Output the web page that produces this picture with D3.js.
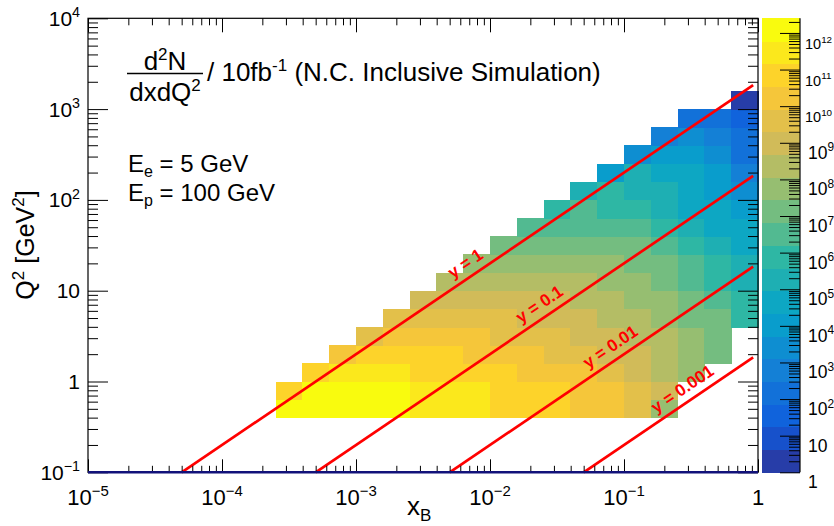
<!DOCTYPE html>
<html>
<head>
<meta charset="utf-8">
<script src="https://cdn.jsdelivr.net/npm/d3@7"></script>
<style>
  body { margin: 0; background: #fff; }
  svg { display: block; font-family: "Liberation Sans", Arial, Helvetica, sans-serif; }
</style>
</head>
<body>
<svg id="chart" width="834" height="526"></svg>
<script>
// ---- Binning: log10 edges, 0.2 decade wide ----
const xBinLow = -3.6;   // first x_B bin starts at 10^-3.6
const qBinLow = -0.4;   // first Q^2 bin starts at 10^-0.4
const binStep = 0.2;

// First filled Q^2 bin of each x_B column
const colFirstRow = [0, 0, 0, 0, 0, 0, 0, 0, 0, 0, 0, 0, 0, 0, 0, 2, 3, 5];

// log10(d2N/dxdQ2 per 10 fb^-1), each column listed from its first filled Q^2 bin upward
const colLogCounts = [
  [12.1, 10.8],
  [12.1, 12.1, 10.8],
  [12.1, 12.1, 11.4, 10.2],
  [12.1, 12.1, 11.4, 10.8, 9.6],
  [12.1, 12.1, 11.4, 10.8, 10.2, 9.6],
  [11.4, 11.4, 10.8, 10.8, 10.2, 9.6, 9.0],
  [11.4, 11.4, 10.8, 10.8, 10.2, 9.6, 9.0, 8.3],
  [11.4, 11.4, 10.8, 10.2, 10.2, 9.6, 9.0, 8.3, 7.7],
  [10.8, 10.8, 10.8, 10.2, 9.6, 9.6, 9.0, 8.3, 7.7, 7.1],
  [10.8, 10.8, 10.2, 10.2, 9.6, 9.0, 9.0, 8.3, 7.7, 7.1, 6.5],
  [10.8, 10.8, 10.2, 9.6, 9.6, 9.0, 9.0, 8.3, 7.7, 7.1, 6.5, 5.9],
  [10.2, 10.2, 10.2, 9.6, 9.0, 9.0, 8.3, 8.3, 7.7, 7.1, 6.5, 6.5, 5.3],
  [10.2, 10.2, 9.6, 9.0, 9.0, 8.3, 8.3, 7.7, 7.7, 7.1, 6.5, 5.9, 5.9, 4.0],
  [9.6, 9.6, 9.0, 9.0, 8.3, 8.3, 7.7, 7.7, 7.1, 7.1, 6.5, 5.9, 5.3, 5.3, 3.4],
  [7.7, 9.0, 8.3, 8.3, 8.3, 7.7, 7.7, 7.1, 7.1, 6.5, 5.9, 5.3, 5.3, 4.6, 4.0, 2.8],
  [7.7, 7.7, 7.7, 7.1, 7.1, 6.5, 6.5, 5.9, 5.3, 4.6, 4.6, 4.6, 4.0, 3.4, 2.2],
  [7.1, 7.1, 7.1, 6.5, 5.9, 5.9, 5.3, 4.6, 4.6, 4.0, 4.0, 3.4, 2.8, 2.2],
  [5.9, 5.9, 5.3, 5.3, 4.6, 4.6, 4.0, 3.4, 2.8, 2.2, 2.2, 1.5, 0.3]
];

// Inelasticity lines Q^2 = y * x * s, s = 4 * 5 GeV * 100 GeV
const beamS = 2000;
const yLines = [1, 0.1, 0.01, 0.001];
const yLineLabels = ["y = 1", "y = 0.1", "y = 0.01", "y = 0.001"];
const yLineLabelX = [473, 547, 618, 690];   // pixel x of each label centre
const yLineXMax = 0.92;

// Axis decades
const xDecades = [-5, -4, -3, -2, -1, 0];
const qDecades = [-1, 0, 1, 2, 3, 4];
const zDecades = [0, 1, 2, 3, 4, 5, 6, 7, 8, 9, 10, 11, 12];
const zMaxLog = 12.4;
const nContours = 20;

// Beam energies
const beams = [["E", "e", " = 5 GeV"], ["E", "p", " = 100 GeV"]];

// ---- kBird palette ----
const birdStops = [0.0, 0.125, 0.25, 0.375, 0.5, 0.625, 0.75, 0.875, 1.0];
const birdR = [0.2082, 0.0592, 0.0780, 0.0232, 0.1802, 0.5301, 0.8186, 0.9956, 0.9764];
const birdG = [0.1664, 0.3599, 0.5041, 0.6419, 0.7178, 0.7492, 0.7328, 0.7862, 0.9832];
const birdB = [0.5293, 0.8684, 0.8385, 0.7914, 0.6425, 0.4662, 0.3499, 0.1968, 0.0539];

const bird = d3.scaleLinear()
  .domain(birdStops)
  .range(birdStops.map((_, i) => d3.rgb(birdR[i] * 255, birdG[i] * 255, birdB[i] * 255)))
  .interpolate(d3.interpolateRgb);

// contour band -> palette colour
const bandColor = i => bird(Math.floor((i + 0.99) * 255 / nContours) / 254);
const bandOf = lz => Math.max(0, Math.min(nContours - 1, Math.floor(lz / zMaxLog * nContours)));

// ---- Geometry ----
const L = 88, R = 758, T = 18.3, B = 472.3;
const cbL = 762, cbR = 800;

const svg = d3.select("#chart");
const x = d3.scaleLog().domain([1e-5, 1]).range([L, R]);
const y = d3.scaleLog().domain([0.1, 1e4]).range([B, T]);
const z = d3.scaleLog().domain([1, Math.pow(10, zMaxLog)]).range([B, T]);

// ---- Histogram cells ----
const cells = [];
colLogCounts.forEach((col, c) => {
  col.forEach((v, k) => {
    const r = colFirstRow[c] + k;
    cells.push({
      x0: Math.pow(10, xBinLow + c * binStep),
      x1: Math.pow(10, xBinLow + (c + 1) * binStep),
      q0: Math.pow(10, qBinLow + r * binStep),
      q1: Math.pow(10, qBinLow + (r + 1) * binStep),
      v
    });
  });
});

svg.append("g").attr("shape-rendering", "crispEdges")
  .selectAll("rect").data(cells).join("rect")
  .attr("x", d => x(d.x0))
  .attr("y", d => y(d.q1))
  .attr("width", d => x(d.x1) - x(d.x0) + 0.5)
  .attr("height", d => y(d.q0) - y(d.q1) + 0.5)
  .attr("fill", d => bandColor(bandOf(d.v)));

// ---- y lines ----
const lineGen = d3.line().x(d => x(d[0])).y(d => y(d[1]));
const slopeDeg = Math.atan2(y(1) - y(10), x(10 ** -1) - x(10 ** -2)) * 180 / Math.PI;

yLines.forEach((yy, i) => {
  const xStart = 0.1 / (yy * beamS);
  svg.append("path")
    .datum([[xStart, 0.1], [yLineXMax, yLineXMax * yy * beamS]])
    .attr("d", lineGen)
    .attr("fill", "none")
    .attr("stroke", "#ff0000")
    .attr("stroke-width", 2.7);

  const px = yLineLabelX[i];
  const xv = x.invert(px);
  const py = y(xv * yy * beamS);
  svg.append("text")
    .attr("transform", `translate(${px},${py}) rotate(${-slopeDeg}) translate(0,-8)`)
    .attr("text-anchor", "middle")
    .attr("font-size", 17)
    .attr("font-weight", "bold")
    .attr("fill", "#ff0000")
    .text(yLineLabels[i]);
});

// ---- Axes ----
const minorOf = decs => {
  const out = [];
  decs.slice(0, -1).forEach(e => { for (let m = 2; m <= 9; m++) out.push(m * Math.pow(10, e)); });
  return out;
};
const xMajor = xDecades.map(e => Math.pow(10, e));
const qMajor = qDecades.map(e => Math.pow(10, e));
const xMinor = minorOf(xDecades);
const qMinor = minorOf(qDecades);

function tickAxis(axisFn, scale, vals, size, tx, ty) {
  svg.append("g")
    .attr("transform", `translate(${tx},${ty})`)
    .call(axisFn(scale).tickValues(vals).tickSize(size).tickFormat(""))
    .call(g => g.select(".domain").remove())
    .call(g => g.selectAll("line").attr("stroke", "#000").attr("stroke-width", 1));
}
tickAxis(d3.axisTop, x, xMajor, 13, 0, B);
tickAxis(d3.axisTop, x, xMinor, 6.5, 0, B);
tickAxis(d3.axisBottom, x, xMajor, 14, 0, T);
tickAxis(d3.axisBottom, x, xMinor, 7, 0, T);
tickAxis(d3.axisRight, y, qMajor, 20, L, 0);
tickAxis(d3.axisRight, y, qMinor, 10, L, 0);
tickAxis(d3.axisLeft, y, qMajor, 20, R, 0);
tickAxis(d3.axisLeft, y, qMinor, 10, R, 0);

// frame
svg.append("rect")
  .attr("x", L).attr("y", T).attr("width", R - L).attr("height", B - T)
  .attr("fill", "none").attr("stroke", "#000").attr("stroke-width", 1.2);
svg.append("line")
  .attr("x1", L).attr("x2", R).attr("y1", B).attr("y2", B)
  .attr("stroke", "#12127a").attr("stroke-width", 2.4);

// power-of-ten label helper
function powLabel(sel, e, fs) {
  if (e === 0) { sel.text("1"); return; }
  if (e === 1) { sel.text("10"); return; }
  sel.text("10");
  sel.append("tspan")
    .attr("dy", -0.42 * fs)
    .attr("font-size", 0.68 * fs)
    .text(e < 0 ? "\u2212" + (-e) : String(e));
}

xDecades.forEach(e => {
  const t = svg.append("text")
    .attr("x", x(Math.pow(10, e))).attr("y", 505)
    .attr("text-anchor", "middle").attr("font-size", 22).attr("fill", "#000");
  powLabel(t, e, 22);
});
qDecades.forEach(e => {
  const t = svg.append("text")
    .attr("x", 80).attr("y", y(Math.pow(10, e)) + 7.5)
    .attr("text-anchor", "end").attr("font-size", 21).attr("fill", "#000");
  powLabel(t, e, 21);
});

// ---- Colour bar ----
const bandEdges = d3.range(nContours + 1).map(i => i * zMaxLog / nContours);
svg.append("g").attr("shape-rendering", "crispEdges")
  .selectAll("rect").data(d3.range(nContours)).join("rect")
  .attr("x", cbL).attr("width", cbR - cbL)
  .attr("y", i => z(Math.pow(10, bandEdges[i + 1])))
  .attr("height", i => z(Math.pow(10, bandEdges[i])) - z(Math.pow(10, bandEdges[i + 1])) + 0.5)
  .attr("fill", i => bandColor(i));

const zMajor = zDecades.map(e => Math.pow(10, e));
const zMinor = [];
zDecades.forEach(e => { for (let m = 2; m <= 9; m++) { const v = m * Math.pow(10, e); if (Math.log10(v) <= zMaxLog) zMinor.push(v); } });
tickAxis(d3.axisLeft, z, zMajor, 20, cbR, 0);
tickAxis(d3.axisLeft, z, zMinor, 11, cbR, 0);
svg.append("line").attr("x1", cbR).attr("x2", cbR).attr("y1", T).attr("y2", B)
  .attr("stroke", "#000").attr("stroke-width", 1.2);

zDecades.forEach(e => {
  // two-digit exponents use a smaller size so they stay inside the canvas
  const lfs = e >= 10 ? 14.5 : 17.5;
  const t = svg.append("text")
    .attr("x", e >= 10 ? 805 : 808).attr("y", z(Math.pow(10, e)) + 16)
    .attr("text-anchor", "start").attr("font-size", lfs).attr("fill", "#000");
  powLabel(t, e, lfs);
});

// ---- Axis titles ----
const xt = svg.append("text").attr("x", 407).attr("y", 515).attr("font-size", 26).attr("fill", "#000");
xt.append("tspan").text("x");
xt.append("tspan").attr("dy", 6).attr("font-size", 17).text("B");

const yt = svg.append("text")
  .attr("transform", "translate(34,245) rotate(-90)")
  .attr("text-anchor", "middle").attr("font-size", 25).attr("fill", "#000");
yt.append("tspan").text("Q");
yt.append("tspan").attr("dy", -10).attr("font-size", 17).text("2");
yt.append("tspan").attr("dy", 10).text(" [GeV");
yt.append("tspan").attr("dy", -10).attr("font-size", 17).text("2");
yt.append("tspan").attr("dy", 10).text("]");

// ---- Annotation ----
const fs = 26;
const num = svg.append("text").attr("x", 165).attr("y", 70).attr("text-anchor", "middle").attr("font-size", fs);
num.append("tspan").text("d");
num.append("tspan").attr("dy", -10).attr("font-size", 17).text("2");
num.append("tspan").attr("dy", 10).text("N");
svg.append("line").attr("x1", 127).attr("x2", 203).attr("y1", 73.5).attr("y2", 73.5)
  .attr("stroke", "#000").attr("stroke-width", 1.6);
const den = svg.append("text").attr("x", 165).attr("y", 101).attr("text-anchor", "middle").attr("font-size", fs);
den.append("tspan").text("dxdQ");
den.append("tspan").attr("dy", -10).attr("font-size", 17).text("2");

const title = svg.append("text").attr("x", 207).attr("y", 81).attr("font-size", fs);
title.append("tspan").text("/ 10fb");
title.append("tspan").attr("dy", -10).attr("font-size", 17).text("-1");
title.append("tspan").attr("dy", 10).text(" (N.C. Inclusive Simulation)");

beams.forEach((b, i) => {
  const t = svg.append("text").attr("x", 128).attr("y", 172 + i * 29).attr("font-size", 24);
  t.append("tspan").text(b[0]);
  t.append("tspan").attr("dy", 5).attr("font-size", 16).text(b[1]);
  t.append("tspan").attr("dy", -5).text(b[2]);
});
</script>
</body>
</html>
